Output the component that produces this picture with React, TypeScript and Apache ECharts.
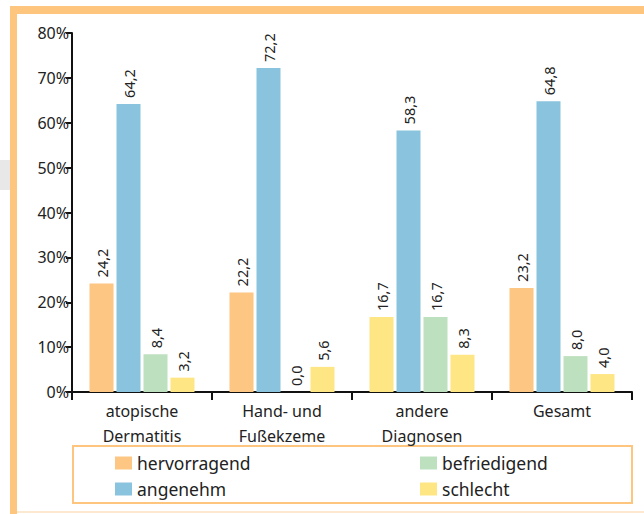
import React, { useEffect, useRef } from "react";
import * as echarts from "echarts";

const categories = ["atopische\nDermatitis", "Hand- und\nFußekzeme", "andere\nDiagnosen", "Gesamt"];
const seriesNames = ["hervorragend", "angenehm", "befriedigend", "schlecht"];
const hervorragend = [24.2, 22.2, 16.7, 23.2];
const angenehm = [64.2, 72.2, 58.3, 64.8];
const befriedigend = [8.4, 0.0, 16.7, 8.0];
const schlecht = [3.2, 5.6, 8.3, 4.0];
const yTicks = [0, 10, 20, 30, 40, 50, 60, 70, 80];

const colors = ["#fdc682", "#8ac3de", "#bde0be", "#fee685"];
const FONT = "Noto Sans";

export default function App() {
  const ref = useRef<HTMLDivElement>(null);
  useEffect(() => {
    if (!ref.current) return;
    const chart = echarts.init(ref.current, undefined, { renderer: "svg" });
    const values = [hervorragend, angenehm, befriedigend, schlecht];
    const series = values.map((vals, si) => ({
      name: seriesNames[si],
      type: "bar",
      barWidth: 24,
      barGap: "12.5%",
      data: vals.map((v, ci) =>
        si === 0 && ci === 2 ? { value: v, itemStyle: { color: colors[3] } } : v
      ),
      itemStyle: { color: colors[si] },
      label: {
        show: true,
        position: "top",
        rotate: 90,
        align: "left",
        verticalAlign: "middle",
        distance: 6,
        fontFamily: FONT,
        fontSize: 14.5,
        color: "#222",
        formatter: (p: any) => Number(p.value).toFixed(1).replace(".", ","),
      },
    }));
    const legendBase = {
      orient: "vertical",
      top: 454,
      padding: 0,
      itemWidth: 17,
      itemHeight: 13,
      itemGap: 8,
      icon: "rect",
      textStyle: { fontFamily: FONT, fontSize: 17.5, color: "#222" },
    };
    chart.setOption({
      animation: false,
      backgroundColor: "#fff",
      grid: { left: 72, right: 12, top: 33, bottom: 122 },
      legend: [
        { ...legendBase, data: [seriesNames[0], seriesNames[1]], left: 115 },
        { ...legendBase, data: [seriesNames[2], seriesNames[3]], left: 420 },
      ],
      xAxis: {
        type: "category",
        data: categories,
        axisLine: { lineStyle: { color: "#111", width: 2 } },
        axisTick: { show: true, length: 8, lineStyle: { color: "#111", width: 2 } },
        axisLabel: { fontFamily: FONT, fontSize: 16, lineHeight: 25, color: "#222", margin: 6 },
      },
      yAxis: {
        type: "value",
        min: yTicks[0],
        max: yTicks[yTicks.length - 1],
        interval: 10,
        splitLine: { show: false },
        axisLine: { show: true, lineStyle: { color: "#111", width: 2 } },
        axisTick: { show: true, length: 6, lineStyle: { color: "#111", width: 2 } },
        axisLabel: { fontFamily: FONT, fontSize: 16, color: "#222", margin: 3, formatter: "{value}%" },
      },
      graphic: [
        { type: "rect", shape: { x: 0, y: 160, width: 10, height: 30 }, style: { fill: "#e8e8e8" }, silent: true },
        { type: "rect", shape: { x: 10, y: 6, width: 7, height: 508 }, style: { fill: "#fec57f" }, silent: true },
        { type: "rect", shape: { x: 10, y: 6, width: 634, height: 8 }, style: { fill: "#fec57f" }, silent: true },
        { type: "rect", shape: { x: 17, y: 511, width: 627, height: 2 }, style: { fill: "#fde8d0" }, silent: true },
        {
          type: "rect",
          shape: { x: 73, y: 446, width: 559, height: 57 },
          style: { fill: "none", stroke: "#fec57f", lineWidth: 2 },
          silent: true,
        },
      ],
      series,
    });
    return () => chart.dispose();
  }, []);
  return <div ref={ref} style={{ width: 644, height: 514, position: "absolute", left: 0, top: 0 }} />;
}
